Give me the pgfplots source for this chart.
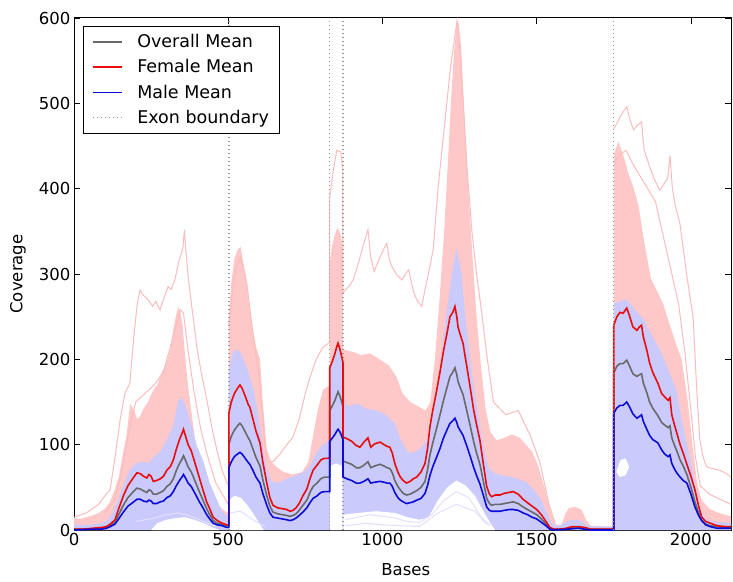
\documentclass[border=0pt]{standalone}
\usepackage{fontspec}
\setmainfont{DejaVu Sans}
\usepackage{pgfplots}
\pgfplotsset{compat=1.18}
\definecolor{pinkfill}{RGB}{255,200,200}
\definecolor{bluefill}{RGB}{202,202,252}
\definecolor{pinkline}{RGB}{250,188,188}
\definecolor{paleblue}{RGB}{225,225,252}
\definecolor{meanred}{RGB}{232,12,12}
\definecolor{meanblue}{RGB}{12,12,215}
\definecolor{meangray}{RGB}{105,105,105}
\definecolor{exongray}{RGB}{150,150,150}
\begin{document}
\begin{tikzpicture}
\useasboundingbox (0,0) rectangle (733pt,581pt);
\begin{axis}[
  at={(74pt,51pt)}, anchor=south west,
  scale only axis, width=657pt, height=512pt,
  xmin=0, xmax=2130, ymin=0, ymax=600,
  xtick={0,500,1000,1500,2000}, ytick={0,100,200,300,400,500,600},
  tick align=inside, major tick length=6pt,
  tick style={black, line width=0.8pt},
  axis line style={line width=1pt, black},
  /pgf/number format/assume math mode=true,
  /pgf/number format/set thousands separator={},
  tick label style={font=\fontsize{16.5}{19}\selectfont},
  label style={font=\fontsize{16.5}{19}\selectfont},
  xlabel={Bases}, ylabel={Coverage},
  xlabel style={at={(axis description cs:0.505,-0.078)}, anchor=center},
  ylabel style={at={(axis description cs:-0.0852,0.5)}, anchor=center},
  legend style={at={(0.0137,0.984)}, anchor=north west, draw=black,
    font=\fontsize{17.5}{20}\selectfont, inner xsep=8.5pt, inner ysep=6pt,
    row sep=6.5pt, column sep=13pt, cells={anchor=west}},
  legend cell align=left,
  legend image code/.code={\draw[#1] (0pt,0pt) -- (29pt,0pt);},
]
% pink envelope (female samples)
\addplot[draw=none, fill=pinkfill, forget plot] coordinates {
(0,14)(20,13)(40,15)(60,17)(80,20)(100,25)(115,32)(130,45)(145,62)(160,92)(170,110)(182,148)(195,140)(205,130)(214,133)(225,142)(240,150)(257,164)(270,170)(285,185)(300,196)(312,210)(322,235)(330,250)(338,262)(345,255)(352,240)(360,205)(368,175)(380,140)(397,95)(410,72)(430,48)(450,36)(473,27)(490,22)(501,20)
(502,20)(502,250)(510,290)(520,318)(530,328)(540,332)(548,315)(556,300)(565,270)(575,245)(590,215)(603,200)(612,150)(625,94)(640,80)(656,74)(680,68)(710,65)(740,68)(760,80)(775,110)(790,140)(807,164)(820,168)(829,168)
(829,310)(835,330)(845,345)(855,355)(865,345)(872,330)(872,212)(890,210)(910,208)(930,205)(960,207)(990,200)(1020,193)(1045,180)(1065,160)(1090,150)(1115,145)(1140,140)(1155,150)(1170,200)(1185,270)(1200,350)(1212,430)(1222,500)(1232,560)(1240,590)(1247,595)(1255,565)(1265,490)(1278,400)(1292,320)(1305,250)(1320,190)(1335,140)(1350,115)(1370,105)(1395,108)(1420,112)(1445,108)(1465,100)(1485,92)(1505,75)(1525,50)(1545,22)(1560,7)(1580,5)(1592,18)(1605,26)(1625,27)(1645,24)(1660,12)(1675,5)(1749,4)
(1750,4)(1750,440)(1765,455)(1780,440)(1800,415)(1815,400)(1830,380)(1850,335)(1870,295)(1890,280)(1910,265)(1930,242)(1950,220)(1970,200)(1990,150)(2005,100)(2020,55)(2035,35)(2060,25)(2090,20)(2130,16)
} \closedcycle;

% light blue envelope (male samples)
\addplot[draw=none, fill=bluefill, forget plot] coordinates {
(0,6)(50,6)(90,8)(110,12)(125,20)(140,32)(160,52)(180,70)(200,78)(220,80)(240,78)(257,85)(280,92)(300,105)(320,120)(338,152)(350,155)(362,145)(380,125)(397,100)(420,80)(440,55)(460,38)(480,22)(501,14)
(502,14)(502,185)(512,205)(525,212)(540,208)(560,190)(580,168)(595,140)(610,100)(625,70)(640,57)(660,55)(690,60)(720,64)(745,68)(765,75)(785,90)(805,100)(829,104)
(829,185)(840,205)(852,215)(862,210)(872,200)(872,150)(890,145)(920,148)(950,142)(980,140)(1010,135)(1040,125)(1060,105)(1085,90)(1110,92)(1135,100)(1150,110)(1170,150)(1190,200)(1210,260)(1225,300)(1240,330)(1255,305)(1270,245)(1290,185)(1310,135)(1330,92)(1345,72)(1365,66)(1400,63)(1440,60)(1470,55)(1495,45)(1515,35)(1535,18)(1550,8)(1565,4)(1590,8)(1610,12)(1640,12)(1660,6)(1680,4)(1749,4)
(1750,4)(1750,265)(1770,268)(1790,270)(1810,262)(1825,255)(1845,248)(1870,230)(1900,211)(1930,185)(1953,164)(1975,120)(1996,86)(2015,50)(2029,27)(2045,14)(2070,10)(2130,8)
} \closedcycle;

% white gaps below the sample lines
\addplot[draw=none, fill=white, forget plot] coordinates {(250,0)(270,8)(300,12)(330,14)(360,15)(390,12)(420,8)(450,3)(470,0)} -- cycle;
\addplot[draw=none, fill=white, forget plot] coordinates {(503,0)(503,35)(520,40)(540,38)(560,30)(580,20)(600,8)(615,0)} -- cycle;
\addplot[draw=none, fill=white, forget plot] coordinates {(830,0)(830,75)(850,78)(871,75)(871,0)} -- cycle;
\addplot[draw=none, fill=white, forget plot] coordinates {(873,0)(873,18)(920,20)(980,22)(1040,20)(1080,15)(1120,12)(1150,15)(1180,35)(1210,50)(1240,58)(1270,52)(1300,40)(1330,20)(1350,8)(1365,0)} -- cycle;
\addplot[draw=none, fill=white, forget plot] coordinates {(1758,68)(1772,82)(1788,84)(1800,74)(1788,64)(1770,62)} -- cycle;

% faint individual sample lines
\addplot[draw=paleblue, line width=1pt, forget plot] coordinates {(880,12)(920,15)(960,18)(1000,16)(1040,14)(1080,10)(1120,9)(1160,18)(1200,35)(1240,45)(1280,38)(1320,15)(1350,5)};
\addplot[draw=paleblue, line width=1pt, forget plot] coordinates {(880,5)(950,8)(1000,6)(1060,5)(1120,4)(1180,20)(1240,30)(1300,22)(1340,6)};
\addplot[draw=paleblue, line width=1pt, forget plot] coordinates {(200,10)(260,14)(300,18)(340,20)(380,16)(420,10)(460,4)};
\addplot[draw=paleblue, line width=1pt, forget plot] coordinates {(505,20)(540,22)(580,12)(620,4)};

% outlier female samples
\addplot[draw=pinkline, line width=1pt, forget plot] coordinates {
(0,15)(40,20)(80,30)(100,40)(117,47)(135,90)(150,130)(165,160)(181,172)(195,230)(205,265)(214,281)(225,275)(240,270)(255,262)(265,268)(279,258)(290,270)(305,285)(315,282)(327,293)(340,315)(353,330)(358,352)(362,330)(372,290)(386,250)(400,210)(415,180)(431,152)(447,120)(463,94)(480,70)(496,55)(501,52)};
\addplot[draw=pinkline, line width=1pt, forget plot] coordinates {
(100,20)(130,35)(150,60)(175,110)(200,150)(230,160)(260,170)(290,185)(320,225)(345,258)(355,254)(370,210)(390,160)(410,120)(430,90)(460,55)(500,30)};
\addplot[draw=pinkline, line width=1pt, forget plot] coordinates {
(502,240)(520,300)(540,320)(560,290)(580,230)(600,180)(615,120)(625,80)(645,80)(670,90)(690,100)(710,109)(730,130)(750,160)(765,179)(785,200)(807,214)(829,220)(829,390)(840,420)(852,445)(865,443)(872,420)(872,278)(890,285)(905,293)(920,310)(935,330)(953,352)(962,320)(973,303)(990,318)(1005,330)(1014,336)(1022,318)(1030,309)(1045,300)(1063,293)(1075,300)(1085,305)(1100,280)(1111,270)(1127,262)(1140,285)(1154,309)(1165,330)(1180,400)(1200,470)(1220,540)(1235,580)(1242,597)(1250,570)(1262,500)(1275,420)(1290,350)(1305,300)(1320,260)(1340,200)(1360,150)(1400,135)(1440,140)(1480,110)(1510,80)(1540,30)(1560,8)};
\addplot[draw=pinkline, line width=1pt, forget plot] coordinates {
(1750,470)(1765,480)(1780,490)(1792,496)(1803,480)(1814,469)(1828,475)(1840,478)(1848,446)(1858,435)(1867,425)(1883,410)(1899,398)(1912,405)(1925,413)(1932,439)(1940,400)(1950,379)(1964,360)(1975,330)(1987,297)(2007,250)(2019,164)(2029,105)(2040,85)(2051,74)(2070,72)(2094,70)(2115,66)(2130,62)};
\addplot[draw=pinkline, line width=1pt, forget plot] coordinates {
(1750,430)(1770,440)(1790,445)(1810,430)(1835,415)(1860,400)(1885,385)(1910,345)(1935,305)(1960,265)(1980,210)(2000,140)(2015,85)(2030,52)(2060,42)(2100,35)(2130,30)};

% exon boundaries
\addplot[draw=exongray, line width=1.4pt, dash pattern=on 1.4pt off 2.6pt, forget plot] coordinates {(502,0)(502,600)};
\addplot[draw=exongray, line width=1.4pt, dash pattern=on 1.4pt off 2.6pt, forget plot] coordinates {(829,0)(829,600)};
\addplot[draw=exongray, line width=1.4pt, dash pattern=on 1.4pt off 2.6pt, forget plot] coordinates {(872,0)(872,600)};

% means
\addplot[draw=meangray, line width=1.6pt] coordinates {
(0,1)(60,1)(90,2)(105,3)(118,5)(133,9)(145,18)(160,29)(175,38)(190,44)(204,49)(215,48)(225,46)(236,44)(243,47)(250,46)(257,42)(268,42)(280,44)(290,46)(301,51)(312,54)(322,60)(332,70)(342,78)(350,83)(355,87)(360,83)(370,74)(380,68)(386,63)(395,55)(405,46)(418,35)(430,25)(440,18)(451,11)(465,8)(480,6)(496,5)(501,5)
(502,5)(502,100)(510,110)(520,117)(530,122)(538,125)(545,122)(555,115)(565,108)(570,105)(580,95)(590,85)(603,75)(612,59)(625,40)(635,28)(645,21)(660,19)(675,18)(690,17)(700,16)(710,17)(720,19)(730,23)(742,29)(755,35)(765,44)(775,51)(788,55)(800,60)(812,62)(823,62)(829,62)
(829,140)(838,146)(846,152)(852,158)(856,162)(862,157)(868,150)(872,145)(872,81)(885,79)(900,77)(915,73)(927,73)(940,76)(953,80)(962,73)(975,75)(992,77)(1005,75)(1015,73)(1024,72)(1032,67)(1040,58)(1050,51)(1058,47)(1067,43)(1078,41)(1090,42)(1100,44)(1111,46)(1125,50)(1138,57)(1146,70)(1154,88)(1163,102)(1174,117)(1186,134)(1198,152)(1210,168)(1219,180)(1228,185)(1235,190)(1241,182)(1245,174)(1253,166)(1261,159)(1272,142)(1284,123)(1296,103)(1306,89)(1316,77)(1326,59)(1338,37)(1347,31)(1354,29)(1365,30)(1381,30)(1395,31)(1410,32)(1424,33)(1440,31)(1456,27)(1470,24)(1485,21)(1500,18)(1515,13)(1530,7)(1543,2)(1555,1)(1575,1)(1595,1)(1615,3)(1635,3)(1655,2)(1675,1)(1749,1)
(1750,1)(1750,184)(1760,192)(1770,195)(1780,195)(1792,199)(1800,193)(1812,183)(1825,180)(1833,182)(1840,183)(1846,172)(1857,161)(1866,150)(1876,143)(1885,138)(1893,134)(1905,126)(1915,123)(1926,120)(1932,122)(1938,108)(1946,100)(1954,93)(1965,82)(1975,75)(1987,65)(2000,50)(2013,33)(2025,20)(2035,11)(2048,7)(2062,5)(2085,4)(2110,3)(2130,3)};
\addlegendentry{Overall Mean}
\addplot[draw=meanred, line width=1.6pt] coordinates {
(0,1)(30,1)(60,2)(90,3)(105,4)(118,7)(133,12)(145,25)(160,40)(175,52)(190,60)(204,67)(215,66)(225,63)(236,61)(243,65)(250,63)(257,57)(268,58)(280,60)(290,63)(301,70)(312,74)(322,82)(332,95)(342,106)(350,113)(355,118)(360,112)(370,100)(380,93)(386,86)(395,75)(405,63)(418,47)(430,33)(440,25)(451,15)(465,11)(480,8)(496,6)(501,6)
(502,6)(502,137)(510,150)(520,160)(530,166)(538,170)(545,166)(555,157)(565,147)(570,144)(580,130)(590,116)(603,102)(612,80)(625,55)(635,38)(645,29)(660,26)(675,25)(690,24)(700,22)(710,23)(720,26)(730,31)(742,40)(755,48)(765,60)(775,70)(788,76)(800,82)(812,84)(823,84)(829,85)
(829,190)(838,198)(846,207)(852,215)(856,219)(862,212)(868,203)(872,196)(872,109)(885,107)(900,104)(915,99)(927,97)(940,103)(953,108)(962,97)(975,101)(992,103)(1005,100)(1015,98)(1024,97)(1032,90)(1040,78)(1050,68)(1058,62)(1067,58)(1078,55)(1090,57)(1100,60)(1111,62)(1125,68)(1138,78)(1146,95)(1154,121)(1163,140)(1174,160)(1186,184)(1198,210)(1210,232)(1219,250)(1228,255)(1235,262)(1241,250)(1245,238)(1253,228)(1261,219)(1272,195)(1284,168)(1296,140)(1306,122)(1316,105)(1326,80)(1338,51)(1347,42)(1354,39)(1365,41)(1381,41)(1395,43)(1410,44)(1424,45)(1440,42)(1456,36)(1470,32)(1485,28)(1500,24)(1515,18)(1530,10)(1543,3)(1555,1)(1575,1)(1595,2)(1615,4)(1635,4)(1655,3)(1675,1)(1749,1)
(1750,1)(1750,240)(1760,250)(1770,255)(1780,254)(1792,260)(1800,252)(1812,238)(1825,234)(1833,238)(1840,240)(1846,226)(1857,211)(1866,196)(1876,185)(1885,178)(1893,172)(1905,160)(1915,156)(1926,152)(1932,155)(1938,135)(1946,124)(1954,114)(1965,100)(1975,90)(1987,77)(2000,63)(2013,47)(2025,28)(2035,15)(2048,10)(2062,8)(2085,5)(2110,4)(2130,4)};
\addlegendentry{Female Mean}
\addplot[draw=meanblue, line width=1.6pt] coordinates {
(0,0)(60,1)(90,1)(105,2)(118,4)(133,7)(145,13)(160,21)(175,28)(190,32)(204,36)(215,36)(225,34)(236,33)(243,35)(250,34)(257,31)(268,31)(280,33)(290,34)(301,38)(312,40)(322,45)(332,52)(342,58)(350,62)(355,65)(360,62)(370,55)(380,51)(386,47)(395,41)(405,34)(418,26)(430,18)(440,13)(451,8)(465,6)(480,5)(496,3)(501,3)
(502,3)(502,73)(510,80)(520,86)(530,89)(538,91)(545,89)(555,84)(565,79)(570,77)(580,70)(590,62)(603,55)(612,43)(625,29)(635,20)(645,15)(660,14)(675,13)(690,12)(700,11)(710,12)(720,14)(730,17)(742,21)(755,26)(765,32)(775,37)(788,40)(800,44)(812,45)(823,45)(829,45)
(829,104)(838,108)(846,112)(852,116)(856,118)(862,115)(868,110)(872,106)(872,62)(885,60)(900,58)(915,55)(927,55)(940,57)(953,60)(962,55)(975,56)(992,57)(1005,56)(1015,55)(1024,55)(1032,51)(1040,44)(1050,38)(1058,35)(1067,33)(1078,31)(1090,32)(1100,33)(1111,35)(1125,37)(1138,43)(1146,52)(1154,64)(1163,74)(1174,84)(1186,95)(1198,108)(1210,118)(1219,125)(1228,128)(1235,131)(1241,126)(1245,121)(1253,116)(1261,111)(1272,100)(1284,87)(1296,73)(1306,63)(1316,54)(1326,42)(1338,27)(1347,23)(1354,22)(1365,22)(1381,22)(1395,23)(1410,24)(1424,24)(1440,23)(1456,20)(1470,18)(1485,15)(1500,13)(1515,9)(1530,5)(1543,1)(1555,0)(1600,1)(1635,2)(1675,0)(1749,0)
(1750,0)(1750,137)(1760,143)(1770,146)(1780,146)(1792,150)(1800,145)(1812,136)(1825,131)(1833,133)(1840,135)(1846,127)(1857,118)(1866,111)(1876,106)(1885,104)(1893,102)(1905,94)(1915,89)(1926,86)(1932,88)(1938,78)(1946,72)(1954,67)(1965,62)(1975,58)(1987,55)(2000,42)(2013,27)(2025,17)(2035,11)(2048,6)(2062,4)(2085,2)(2110,2)(2130,2)};
\addlegendentry{Male Mean}
\addplot[draw=exongray, line width=1.4pt, dash pattern=on 1.4pt off 2.6pt] coordinates {(1750,0)(1750,600)};
\addlegendentry{Exon boundary}
\end{axis}
\end{tikzpicture}
\end{document}
